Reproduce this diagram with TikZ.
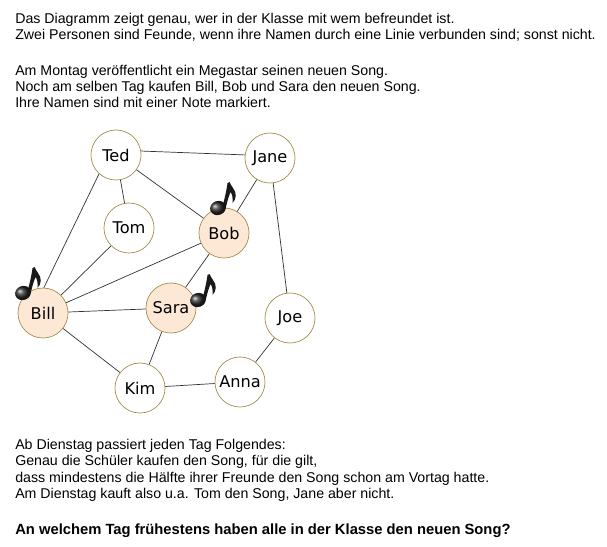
\documentclass[tikz,border=0pt]{standalone}
\usepackage{fontspec}
\setmainfont{Liberation Sans}
\newfontfamily\namefont{DejaVu Sans}
\usetikzlibrary{shadings}
\definecolor{ringcol}{HTML}{A38F4D}
\definecolor{songcol}{HTML}{FDE8D5}
\definecolor{edgecol}{HTML}{333333}
\tikzset{
    person/.style={circle,draw=ringcol,fill=white,line width=0.5pt,minimum size=1.25cm,inner sep=0pt,font=\namefont\fontsize{11.5}{13}\selectfont},
    buyer/.style={person,fill=songcol},
    friend/.style={draw=edgecol,line width=0.5pt},
    textline/.style={anchor=base west,inner sep=0pt,font=\fontsize{10.09}{12}\selectfont},
    songnote/.pic={
        \fill[black!90] (4.5,-2) -- (8,-1) .. controls (9.5,-8) and (11,-12) .. (12.5,-16)
            .. controls (14,-14) and (15,-11) .. (14.5,-5)
            .. controls (18.5,-9) and (19,-15) .. (15,-20)
            .. controls (13.5,-22) and (12.5,-24) .. (11.5,-26)
            -- (9.5,-25) .. controls (8.5,-17) and (6.5,-9) .. (4.5,-2) -- cycle;
        \shade[ball color=black!85,rotate=20] (0,0) ellipse (8 and 7);
    }
}
\begin{document}
\begin{tikzpicture}[x=0.025cm,y=-0.025cm]

\useasboundingbox (0,0) rectangle (607,547);

% Intro
\node[textline] (intro1) at (15,23) {Das Diagramm zeigt genau, wer in der Klasse mit wem befreundet ist.};
\node[textline] (intro2) at (15,39) {Zwei Personen sind Feunde, wenn ihre Namen durch eine Linie verbunden sind; sonst nicht.};
\node[textline] (monday1) at (15,75) {Am Montag veröffentlicht ein Megastar seinen neuen Song.};
\node[textline] (monday2) at (15,91) {Noch am selben Tag kaufen Bill, Bob und Sara den neuen Song.};
\node[textline] (monday3) at (15,107) {Ihre Namen sind mit einer Note markiert.};

% People
\node[person] (Ted) at (116,155) {Ted};
\node[person] (Jane) at (270,158) {Jane};
\node[person] (Tom) at (129,228) {Tom};
\node[buyer] (Bob) at (224,233) {Bob};
\node[buyer] (Bill) at (43,313) {Bill};
\node[buyer] (Sara) at (171,308) {Sara};
\node[person] (Joe) at (290,318) {Joe};
\node[person] (Kim) at (140,388) {Kim};
\node[person] (Anna) at (240,382) {Anna};

% Friendships
\foreach \a/\b in {Ted/Tom,Ted/Bob,Tom/Bill,Bob/Jane,Bob/Bill,Bob/Sara,
    Bill/Sara,Bill/Kim,Sara/Kim,Jane/Joe,Joe/Anna,Anna/Kim}
    \draw[friend] (\a) -- (\b);
\draw[friend] (Ted.9) -- (Jane.173);
\draw[friend] (Ted.228) -- (Bill.88);

% Notes
\pic at (218,208) {songnote};
\pic at (23,293) {songnote};
\pic at (198,300) {songnote};

% Tuesday
\node[textline] (tuesday1) at (15,449) {Ab Dienstag passiert jeden Tag Folgendes:};
\node[textline] (tuesday2) at (15,465) {Genau die Schüler kaufen den Song, für die gilt,};
\node[textline] (tuesday3) at (15,482) {dass mindestens die Hälfte ihrer Freunde den Song schon am Vortag hatte.};
\node[textline] (tuesday4) at (15,498) {Am Dienstag kauft also u.a. Tom den Song, Jane aber nicht.};

% Question
\node[textline,font=\bfseries\fontsize{10.5}{12}\selectfont] (question) at (15,534) {An welchem Tag frühestens haben alle in der Klasse den neuen Song?};

\end{tikzpicture}
\end{document}
